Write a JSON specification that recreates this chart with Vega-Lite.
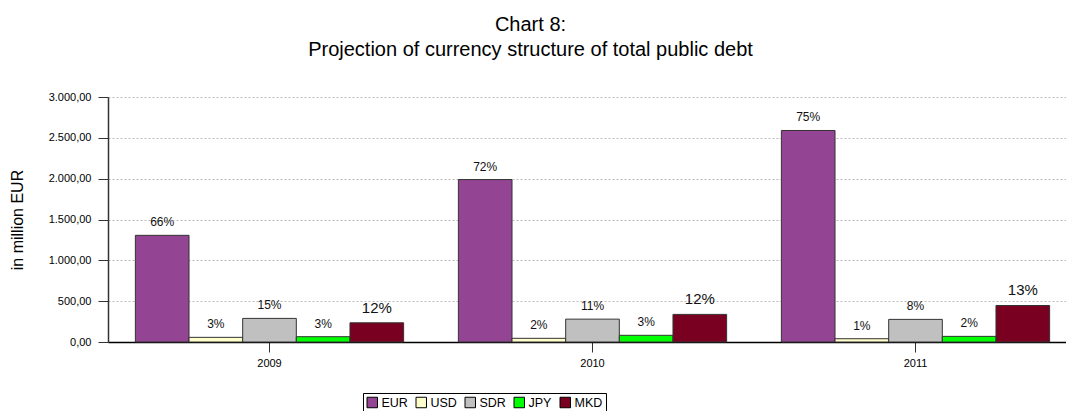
{
  "$schema": "https://vega.github.io/schema/vega-lite/v6.json",
  "autosize": {"type": "none"},
  "width": 969,
  "height": 245,
  "padding": {"left": 108, "top": 97, "right": 0, "bottom": 69},
  "background": "white",
  "config": {
    "locale": {"number": {"decimal": ",", "thousands": ".", "grouping": [3], "currency": ["", " €"]}},
    "font": "Liberation Sans",
    "view": {"stroke": null}
  },
  "title": {
    "text": ["Chart 8:", "Projection of currency structure of total public debt"],
    "fontSize": 20,
    "fontWeight": "normal",
    "lineHeight": 25,
    "color": "#000000",
    "anchor": "middle",
    "dx": -62,
    "offset": 31,
    "font": "Liberation Sans"
  },
  "data": {
    "values": [
      {"year": "2009", "currency": "EUR", "value": 1306, "pct": "66%"},
      {"year": "2009", "currency": "USD", "value": 57, "pct": "3%"},
      {"year": "2009", "currency": "SDR", "value": 289, "pct": "15%"},
      {"year": "2009", "currency": "JPY", "value": 65, "pct": "3%"},
      {"year": "2009", "currency": "MKD", "value": 235, "pct": "12%"},
      {"year": "2010", "currency": "EUR", "value": 1989, "pct": "72%"},
      {"year": "2010", "currency": "USD", "value": 45, "pct": "2%"},
      {"year": "2010", "currency": "SDR", "value": 280, "pct": "11%"},
      {"year": "2010", "currency": "JPY", "value": 82, "pct": "3%"},
      {"year": "2010", "currency": "MKD", "value": 338, "pct": "12%"},
      {"year": "2011", "currency": "EUR", "value": 2590, "pct": "75%"},
      {"year": "2011", "currency": "USD", "value": 40, "pct": "1%"},
      {"year": "2011", "currency": "SDR", "value": 277, "pct": "8%"},
      {"year": "2011", "currency": "JPY", "value": 69, "pct": "2%"},
      {"year": "2011", "currency": "MKD", "value": 447, "pct": "13%"}
    ]
  },
  "encoding": {
    "x": {
      "field": "year", "type": "nominal",
      "scale": {"paddingInner": 0, "paddingOuter": 0},
      "axis": {
        "title": null, "labelAngle": 0, "labelFontSize": 11, "labelColor": "#000000",
        "domainColor": "#000000", "domainWidth": 1.5, "tickColor": "#333333", "tickSize": 10,
        "labelPadding": 5, "grid": false
      }
    },
    "xOffset": {
      "field": "currency", "type": "nominal",
      "sort": ["EUR", "USD", "SDR", "JPY", "MKD"],
      "scale": {"paddingInner": 0, "paddingOuter": 0.51}
    },
    "y": {
      "field": "value", "type": "quantitative",
      "scale": {"domain": [0, 3000], "nice": false},
      "axis": {
        "title": "in million EUR", "titleFontSize": 16, "titleFontWeight": "normal", "titleColor": "#000000",
        "titlePadding": 23,
        "format": ",.2f", "values": [0, 500, 1000, 1500, 2000, 2500, 3000], "labelOverlap": false,
        "labelFontSize": 11, "labelColor": "#000000", "labelPadding": 7,
        "tickSize": 10, "tickColor": "#333333", "domainColor": "#333333", "domainWidth": 1.5,
        "gridColor": "#bbbbbb", "gridDash": [2, 2], "gridWidth": 1
      }
    }
  },
  "layer": [
    {
      "mark": {"type": "bar", "stroke": "#333333", "strokeWidth": 1},
      "encoding": {
        "color": {
          "field": "currency", "type": "nominal",
          "sort": ["EUR", "USD", "SDR", "JPY", "MKD"],
          "scale": {"domain": ["EUR", "USD", "SDR", "JPY", "MKD"], "range": ["#934593", "#FFFFCC", "#C0C0C0", "#00FF00", "#7A0021"]},
          "legend": {
            "title": null, "orient": "none", "legendX": 255, "legendY": 296,
            "direction": "horizontal", "columns": 5, "symbolType": "square", "symbolSize": 110,
            "symbolStrokeColor": "#000000", "symbolStrokeWidth": 1, "labelFontSize": 12.5, "labelColor": "#000000",
            "strokeColor": "#000000", "padding": 3, "columnPadding": 6, "labelOffset": 3
          }
        }
      }
    },
    {
      "transform": [{"filter": "datum.currency != 'MKD'"}],
      "mark": {"type": "text", "baseline": "bottom", "dy": -6, "fontSize": 12, "color": "#111111"},
      "encoding": {"text": {"field": "pct"}}
    },
    {
      "transform": [{"filter": "datum.currency == 'MKD'"}],
      "mark": {"type": "text", "baseline": "bottom", "dy": -7, "fontSize": 15, "color": "#111111"},
      "encoding": {"text": {"field": "pct"}}
    }
  ]
}
